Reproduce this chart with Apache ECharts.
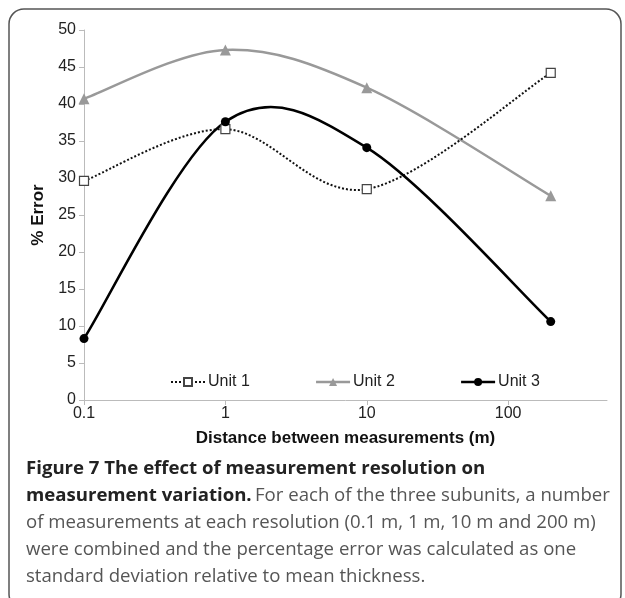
<!DOCTYPE html>
<html>
<head>
<meta charset="utf-8">
<script src="https://cdn.jsdelivr.net/npm/echarts@6/dist/echarts.min.js"></script>
<style>
  html, body { margin: 0; padding: 0; background: #fff; }
  #chart { width: 625px; height: 598px; }
</style>
</head>
<body>
<div id="chart"></div>
<script>
// distance between measurements (m), log axis
const distances = [0.1, 1, 10, 200]
const xTickValues = [0.1, 1, 10, 100]

// % error per subunit
const unit1 = [29.6, 36.6, 28.5, 44.2]
const unit2 = [40.7, 47.3, 42.2, 27.6]
const unit3 = [8.3, 37.6, 34.1, 10.6]

const captionLines = [
  'measurement variation.',
  'For each of the three subunits, a number',
  'of measurements at each resolution (0.1 m, 1 m, 10 m and 200 m)',
  'were combined and the percentage error was calculated as one',
  'standard deviation relative to mean thickness.'
]

const toPoints = vals => distances.map((d, i) => [d, vals[i]])

// spreadsheet-style smoothed line (catmull-rom -> bezier), points mapped through the axes
const smoothPath = (api, vals) => {
  const pts = distances.map((d, i) => api.coord([d, vals[i]]))
  let d = 'M' + pts[0][0] + ',' + pts[0][1]
  for (let i = 0; i < pts.length - 1; i++) {
    const p0 = pts[Math.max(i - 1, 0)]
    const p1 = pts[i]
    const p2 = pts[i + 1]
    const p3 = pts[Math.min(i + 2, pts.length - 1)]
    const c1 = [p1[0] + (p2[0] - p0[0]) / 6, p1[1] + (p2[1] - p0[1]) / 6]
    const c2 = [p2[0] - (p3[0] - p1[0]) / 6, p2[1] - (p3[1] - p1[1]) / 6]
    d += ' C' + c1.join(',') + ' ' + c2.join(',') + ' ' + p2.join(',')
  }
  return d
}

const curveSeries = (name, vals, style, z) => ({
  name: name,
  type: 'custom',
  data: toPoints(vals),
  silent: true,
  z: z,
  renderItem: (params, api) => {
    if (params.dataIndex !== 0) return null
    return {
      type: 'path',
      shape: { pathData: smoothPath(api, vals) },
      style: Object.assign({ fill: 'none' }, style)
    }
  }
})

const chart = echarts.init(document.getElementById('chart'))

const axisFont = { fontFamily: 'Liberation Sans', fontSize: 16, color: '#222' }
const nameFont = { fontFamily: 'Liberation Sans', fontSize: 17, fontWeight: 'bold', color: '#111' }
const capSize = '18.6px "Open Sans"'

const option = {
  animation: false,
  grid: { left: 84, right: 18, top: 30, bottom: 198 },
  legend: {
    left: 165,
    top: 369,
    itemWidth: 34,
    itemHeight: 10,
    itemGap: 65,
    textStyle: { fontFamily: 'Liberation Sans', fontSize: 16, color: '#222', padding: [0, 0, 0, -2] },
    data: [
      { name: 'Unit 1', lineStyle: { opacity: 1, color: '#111', width: 2, type: [2, 2] } },
      { name: 'Unit 2', lineStyle: { opacity: 1, color: '#999', width: 2.5, type: 'solid' } },
      { name: 'Unit 3', lineStyle: { opacity: 1, color: '#000', width: 2.5, type: 'solid' } }
    ]
  },
  xAxis: {
    type: 'log',
    logBase: 10,
    min: 0.1,
    max: 500,
    name: 'Distance between measurements (m)',
    nameLocation: 'middle',
    nameGap: 30,
    nameTextStyle: nameFont,
    axisLine: { lineStyle: { color: '#bbb', width: 1 } },
    axisTick: { show: true, length: 5, lineStyle: { color: '#bbb' }, customValues: xTickValues },
    axisLabel: { ...axisFont, margin: 6, customValues: xTickValues, formatter: v => String(v) },
    splitLine: { show: false },
    minorTick: { show: false }
  },
  yAxis: {
    type: 'value',
    min: 0,
    max: 50,
    interval: 5,
    name: '% Error',
    nameLocation: 'middle',
    nameGap: 33,
    nameTextStyle: nameFont,
    axisLine: { show: true, lineStyle: { color: '#bbb', width: 1 } },
    axisTick: { show: true, length: 5, lineStyle: { color: '#bbb' } },
    axisLabel: { ...axisFont, margin: 8 },
    splitLine: { show: false }
  },
  series: [
    curveSeries('Unit 1 curve', unit1, { stroke: '#111', lineWidth: 2, lineDash: [2, 2] }, 2),
    curveSeries('Unit 2 curve', unit2, { stroke: '#999', lineWidth: 2.5 }, 1),
    curveSeries('Unit 3 curve', unit3, { stroke: '#000', lineWidth: 2.5 }, 3),
    {
      name: 'Unit 1',
      type: 'line',
      data: toPoints(unit1),
      symbol: 'rect',
      symbolSize: 9,
      lineStyle: { color: '#111', width: 2, type: [2, 2], opacity: 0 },
      itemStyle: { color: '#fff', borderColor: '#444', borderWidth: 1.2 },
      z: 5
    },
    {
      name: 'Unit 2',
      type: 'line',
      data: toPoints(unit2),
      symbol: 'triangle',
      symbolSize: 11,
      lineStyle: { color: '#999', width: 2.5, opacity: 0 },
      itemStyle: { color: '#999' },
      z: 4
    },
    {
      name: 'Unit 3',
      type: 'line',
      data: toPoints(unit3),
      symbol: 'circle',
      symbolSize: 9,
      lineStyle: { color: '#000', width: 2.5, opacity: 0 },
      itemStyle: { color: '#000' },
      z: 6
    }
  ],
  graphic: [
    {
      type: 'rect',
      shape: { x: 9, y: 9, width: 612, height: 600, r: 15 },
      style: { fill: 'none', stroke: '#555', lineWidth: 1.5 },
      silent: true
    },
    {
      type: 'text',
      x: 26, y: 469,
      style: {
        text: 'Figure 7 The effect of measurement resolution on',
        font: 'bold ' + capSize, fill: '#222', verticalAlign: 'middle'
      }
    },
    {
      type: 'text',
      x: 26, y: 496,
      style: {
        text: '{b|' + captionLines[0] + '} {r|' + captionLines[1] + '}',
        verticalAlign: 'middle',
        rich: {
          b: { font: 'bold ' + capSize, fill: '#222' },
          r: { font: capSize, fill: '#555' }
        }
      }
    },
    ...captionLines.slice(2).map((t, i) => ({
      type: 'text',
      x: 26, y: 523 + i * 26.8,
      style: { text: t, font: capSize, fill: '#555', verticalAlign: 'middle' }
    }))
  ]
}

chart.setOption(option)
</script>
</body>
</html>
